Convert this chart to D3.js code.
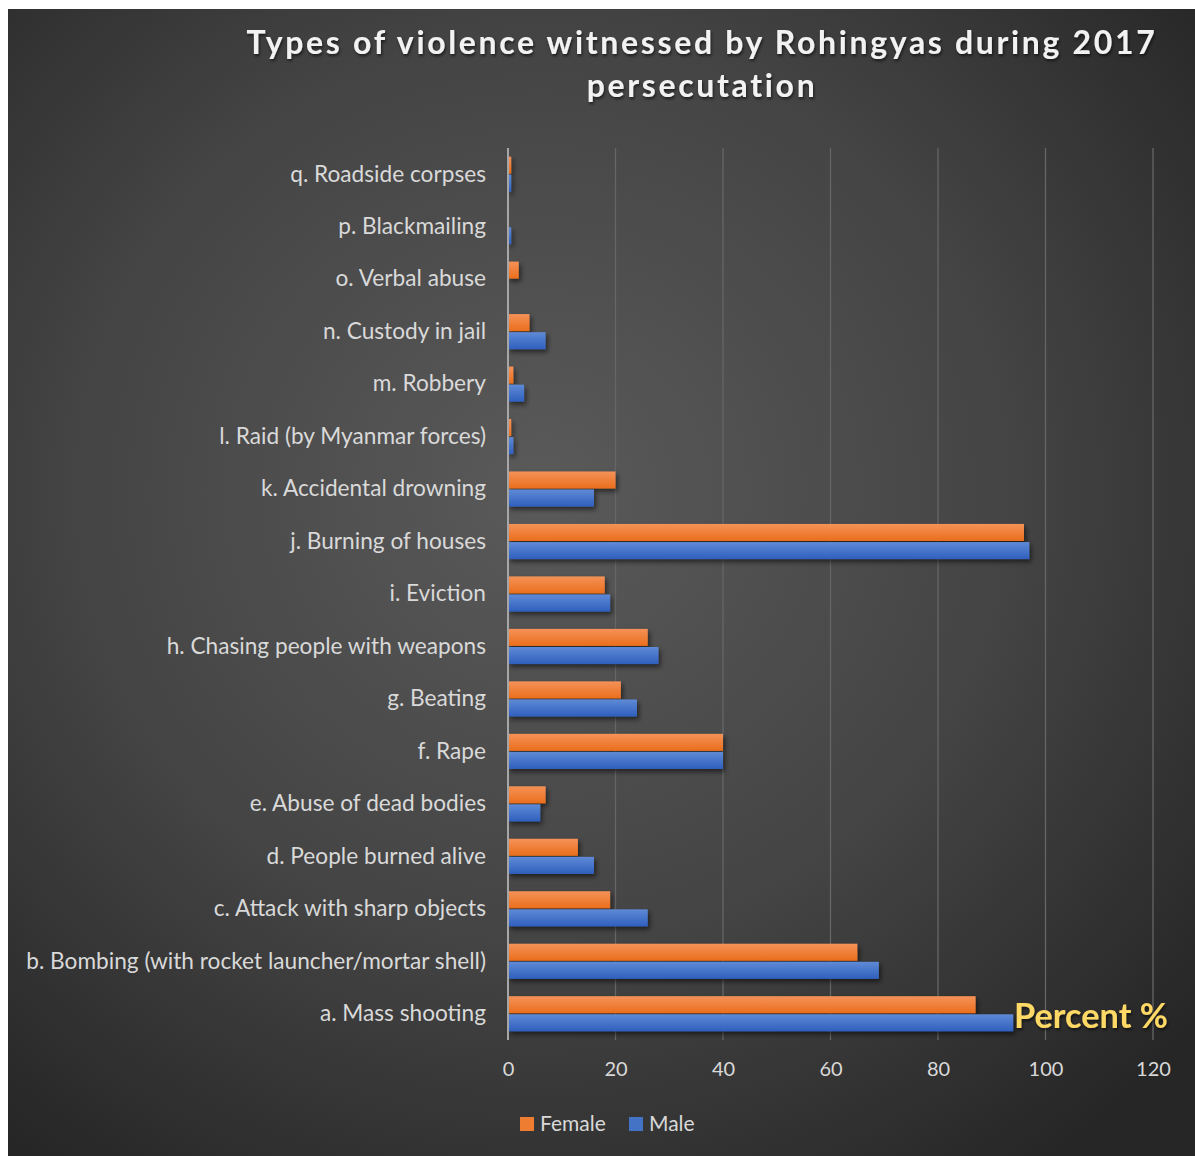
<!DOCTYPE html>
<html>
<head>
<meta charset="utf-8">
<script src="https://cdn.jsdelivr.net/npm/d3@7"></script>
<style>
  html, body { margin: 0; padding: 0; background: #ffffff; }
  svg { display: block; }
</style>
</head>
<body>
<svg id="chart" width="1195" height="1156"></svg>
<script>
// Categories, listed from top to bottom as they appear on the chart
const categories = [
  "q. Roadside corpses",
  "p. Blackmailing",
  "o. Verbal abuse",
  "n. Custody in jail",
  "m. Robbery",
  "l. Raid (by Myanmar forces)",
  "k. Accidental drowning",
  "j. Burning of houses",
  "i. Eviction",
  "h. Chasing people with weapons",
  "g. Beating",
  "f. Rape",
  "e. Abuse of dead bodies",
  "d. People burned alive",
  "c. Attack with sharp objects",
  "b. Bombing (with rocket launcher/mortar shell)",
  "a. Mass shooting"
];

// Percent of respondents who witnessed each type of violence
const femaleValues = [0.6, 0, 2, 4, 1, 0.6, 20, 96, 18, 26, 21, 40, 7, 13, 19, 65, 87];
const maleValues   = [0.6, 0.6, 0, 7, 3, 1, 16, 97, 19, 28, 24, 40, 6, 16, 26, 69, 94];

const seriesNames = ["Female", "Male"];
const xTicks = [0, 20, 40, 60, 80, 100, 120];

const titleLines = ["Types of violence witnessed by Rohingyas during 2017", "persecutation"];
const axisTitle = "Percent %";

const svg = d3.select("#chart");
const defs = svg.append("defs");

// Dark panel with a soft lighter glow in the middle
const bg = defs.append("radialGradient").attr("id", "bgGrad")
  .attr("cx", "0.45").attr("cy", "0.42").attr("r", "0.72");
bg.append("stop").attr("offset", "0%").attr("stop-color", "#5a5a5a");
bg.append("stop").attr("offset", "55%").attr("stop-color", "#444444");
bg.append("stop").attr("offset", "100%").attr("stop-color", "#262626");

function barGradient(id, top, bottom) {
  const g = defs.append("linearGradient").attr("id", id)
    .attr("x1", 0).attr("y1", 0).attr("x2", 0).attr("y2", 1);
  g.append("stop").attr("offset", "0%").attr("stop-color", top);
  g.append("stop").attr("offset", "100%").attr("stop-color", bottom);
}
barGradient("gradFemale", "#f59258", "#ea6e1c");
barGradient("gradMale", "#5f8ad6", "#2f5fbd");

const shadow = defs.append("filter").attr("id", "barShadow")
  .attr("x", "-5%").attr("y", "-30%").attr("width", "115%").attr("height", "190%");
shadow.append("feDropShadow").attr("dx", 2).attr("dy", 3).attr("stdDeviation", 2.5)
  .attr("flood-color", "#000").attr("flood-opacity", 0.55);

const textShadow = defs.append("filter").attr("id", "textShadow")
  .attr("x", "-10%").attr("y", "-30%").attr("width", "120%").attr("height", "160%");
textShadow.append("feDropShadow").attr("dx", 1).attr("dy", 2).attr("stdDeviation", 1.5)
  .attr("flood-color", "#000").attr("flood-opacity", 0.6);

svg.append("rect").attr("x", 8).attr("y", 9).attr("width", 1187).attr("height", 1147)
  .attr("fill", "url(#bgGrad)");

// Plot area
const plot = { left: 508, right: 1153, top: 148, bottom: 1040 };

const x = d3.scaleLinear().domain([0, 120]).range([plot.left, plot.right]);
const y = d3.scaleBand().domain(categories).range([plot.top, plot.bottom]).paddingInner(0.33).paddingOuter(0.165);
const sub = d3.scaleBand().domain(seriesNames).range([0, y.bandwidth()]).paddingInner(0.06);

const font = "Lato, 'Open Sans', 'DejaVu Sans', sans-serif";

// Vertical gridlines
svg.append("g").selectAll("line").data(xTicks.filter(t => t > 0)).join("line")
  .attr("x1", d => x(d)).attr("x2", d => x(d))
  .attr("y1", plot.top).attr("y2", plot.bottom)
  .attr("stroke", "#666666").attr("stroke-width", 1.3);

// Bars
const rows = categories.map((c, i) => ({ cat: c, Female: femaleValues[i], Male: maleValues[i] }));
const fills = { Female: "url(#gradFemale)", Male: "url(#gradMale)" };
const barG = svg.append("g").attr("filter", "url(#barShadow)");
seriesNames.forEach(s => {
  barG.selectAll("rect." + s).data(rows).join("rect")
    .attr("class", s)
    .attr("x", x(0))
    .attr("y", d => y(d.cat) + sub(s))
    .attr("width", d => Math.max(0, x(d[s]) - x(0)))
    .attr("height", sub.bandwidth())
    .attr("fill", fills[s]);
});

// Value axis baseline
svg.append("line").attr("x1", x(0)).attr("x2", x(0))
  .attr("y1", plot.top).attr("y2", plot.bottom)
  .attr("stroke", "#a6a6a6").attr("stroke-width", 2);

// Bottom tick labels
const xAxis = d3.axisBottom(x).tickValues(xTicks).tickSize(0).tickPadding(22);
const xg = svg.append("g").attr("transform", `translate(0,${plot.bottom})`).call(xAxis);
xg.select(".domain").remove();
xg.selectAll("text").attr("fill", "#d9d9d9").style("font-family", font).style("font-size", "20px");

// Category labels
const yAxis = d3.axisLeft(y).tickSize(0).tickPadding(22);
const yg = svg.append("g").attr("transform", `translate(${plot.left},0)`).call(yAxis);
yg.select(".domain").remove();
yg.selectAll("text").attr("fill", "#d9d9d9").style("font-family", font).style("font-size", "20px");
// fit the longest label to its drawn width
{
  const nodes = yg.selectAll("text").nodes();
  const longest = d3.max(nodes, n => n.getComputedTextLength());
  const fs = 20 * 460 / longest;
  yg.selectAll("text").style("font-size", fs.toFixed(2) + "px");
}

// Title
const title = svg.append("g");
title.selectAll("text").data(titleLines).join("text")
  .attr("x", 702).attr("y", (d, i) => 54 + i * 43)
  .attr("text-anchor", "middle")
  .attr("fill", "#f2f2f2")
  .attr("filter", "url(#textShadow)")
  .style("font-family", font).style("font-weight", "bold").style("font-size", "32px")
  .style("letter-spacing", "1.5px")
  .text(d => d);
{
  const first = title.select("text").node();
  const w = first.getComputedTextLength();
  const ls = 1.5 + (911 - w) / titleLines[0].length;
  title.selectAll("text").style("letter-spacing", ls.toFixed(2) + "px");
}

// Axis unit label
const unit = svg.append("text")
  .attr("x", 1014).attr("y", 1028)
  .attr("fill", "#ffd966")
  .attr("filter", "url(#textShadow)")
  .style("font-family", font).style("font-weight", "bold").style("font-size", "32px")
  .text(axisTitle);
{
  const w = unit.node().getComputedTextLength();
  unit.style("font-size", (32 * 154 / w).toFixed(2) + "px");
}

// Legend
const legendColors = { Female: "#ee7d31", Male: "#4472c4" };
const legendX = { Female: 520, Male: 629 };
const lg = svg.append("g");
seriesNames.forEach(s => {
  lg.append("rect").attr("x", legendX[s]).attr("y", 1117).attr("width", 14).attr("height", 14)
    .attr("fill", legendColors[s]);
  lg.append("text").attr("x", legendX[s] + 20).attr("y", 1131)
    .attr("fill", "#d9d9d9").style("font-family", font).style("font-size", "21px")
    .text(s);
});
</script>
</body>
</html>
